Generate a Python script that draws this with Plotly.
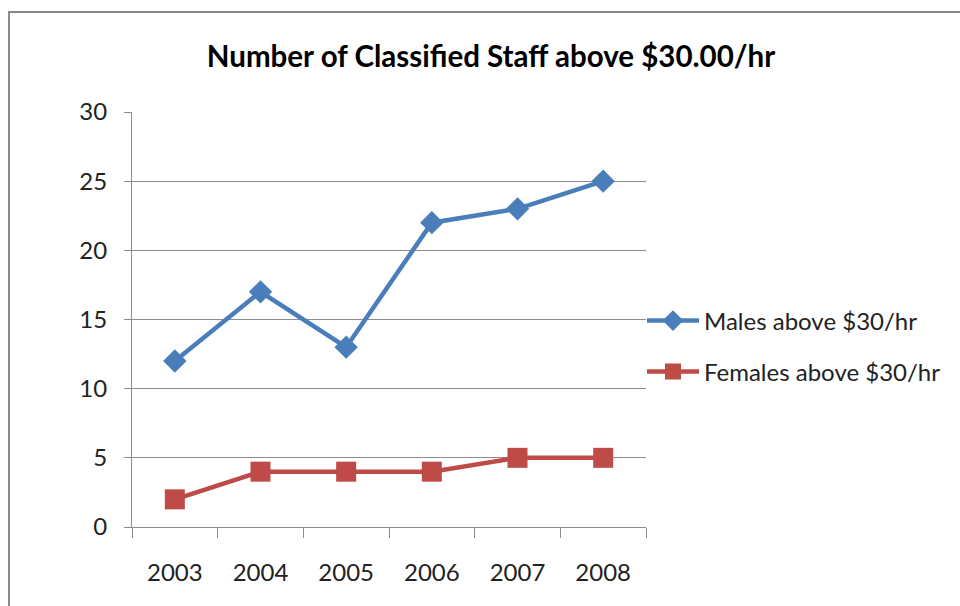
import plotly.graph_objects as go

years = ["2003", "2004", "2005", "2006", "2007", "2008"]
males = [12, 17, 13, 22, 23, 25]
females = [2, 4, 4, 4, 5, 5]
y_ticks = [0, 5, 10, 15, 20, 25, 30]

FONT = "Lato"
L, R, T, B = 132, 646, 112, 527
W, H = 960, 606

fig = go.Figure()
fig.add_trace(go.Scatter(
    x=years, y=males, mode="lines+markers", name="Males above $30/hr",
    line=dict(color="#4A7EBB", width=4.5),
    marker=dict(symbol="diamond", size=18, color="#4A7EBB"),
    legend="legend",
))
fig.add_trace(go.Scatter(
    x=years, y=females, mode="lines+markers", name="Females above $30/hr",
    line=dict(color="#BE4B48", width=4.5),
    marker=dict(symbol="square", size=20, color="#BE4B48"),
    legend="legend2",
))

def px_x(p):
    return (p - L) / (R - L)

def px_y(p):
    return (B - p) / (B - T)

TXT = "#222222"

fig.update_layout(
    width=W, height=H,
    margin=dict(l=L, r=W - R, t=T, b=H - B, pad=0),
    paper_bgcolor="white", plot_bgcolor="white",
    font=dict(family=FONT, color=TXT, size=24),
    title=dict(text="<b>Number of Classified Staff above $30.00/hr</b>",
               x=491 / W, xanchor="center", y=1 - 57 / H, yanchor="middle",
               font=dict(family=FONT, size=29.5, color="black")),
    xaxis=dict(type="category", tickson="boundaries", ticks="outside", ticklen=10,
               tickcolor="#8c8c8c", showline=True, linecolor="#8c8c8c", linewidth=1,
               showgrid=False, tickfont=dict(size=24, color=TXT), ticklabelstandoff=24,
               range=[-0.5, 5.5]),
    yaxis=dict(range=[0, 30], tickvals=y_ticks, ticks="outside", ticklen=7,
               tickcolor="#8c8c8c", showline=True, linecolor="#8c8c8c", linewidth=1,
               showgrid=True, gridcolor="#8c8c8c", gridwidth=1, zeroline=False,
               tickfont=dict(size=24, color=TXT), ticklabelstandoff=12),
    legend=dict(x=px_x(642), xanchor="left", y=px_y(321), yanchor="middle",
                font=dict(size=24, color=TXT), itemwidth=52, bgcolor="rgba(0,0,0,0)",
                borderwidth=0),
    legend2=dict(x=px_x(642), xanchor="left", y=px_y(372), yanchor="middle",
                 font=dict(size=24, color=TXT), itemwidth=52, bgcolor="rgba(0,0,0,0)",
                 borderwidth=0),
    showlegend=True,
)

# chart area border
fig.add_shape(type="rect", xref="paper", yref="paper",
              x0=px_x(9), x1=px_x(1000), y0=px_y(700), y1=px_y(12),
              line=dict(color="#8a8a8a", width=2), fillcolor="rgba(0,0,0,0)",
              layer="below")

fig.write_html("out.html", config={"displayModeBar": False},
               post_script="document.body.style.margin='0';document.body.style.overflow='hidden';")
